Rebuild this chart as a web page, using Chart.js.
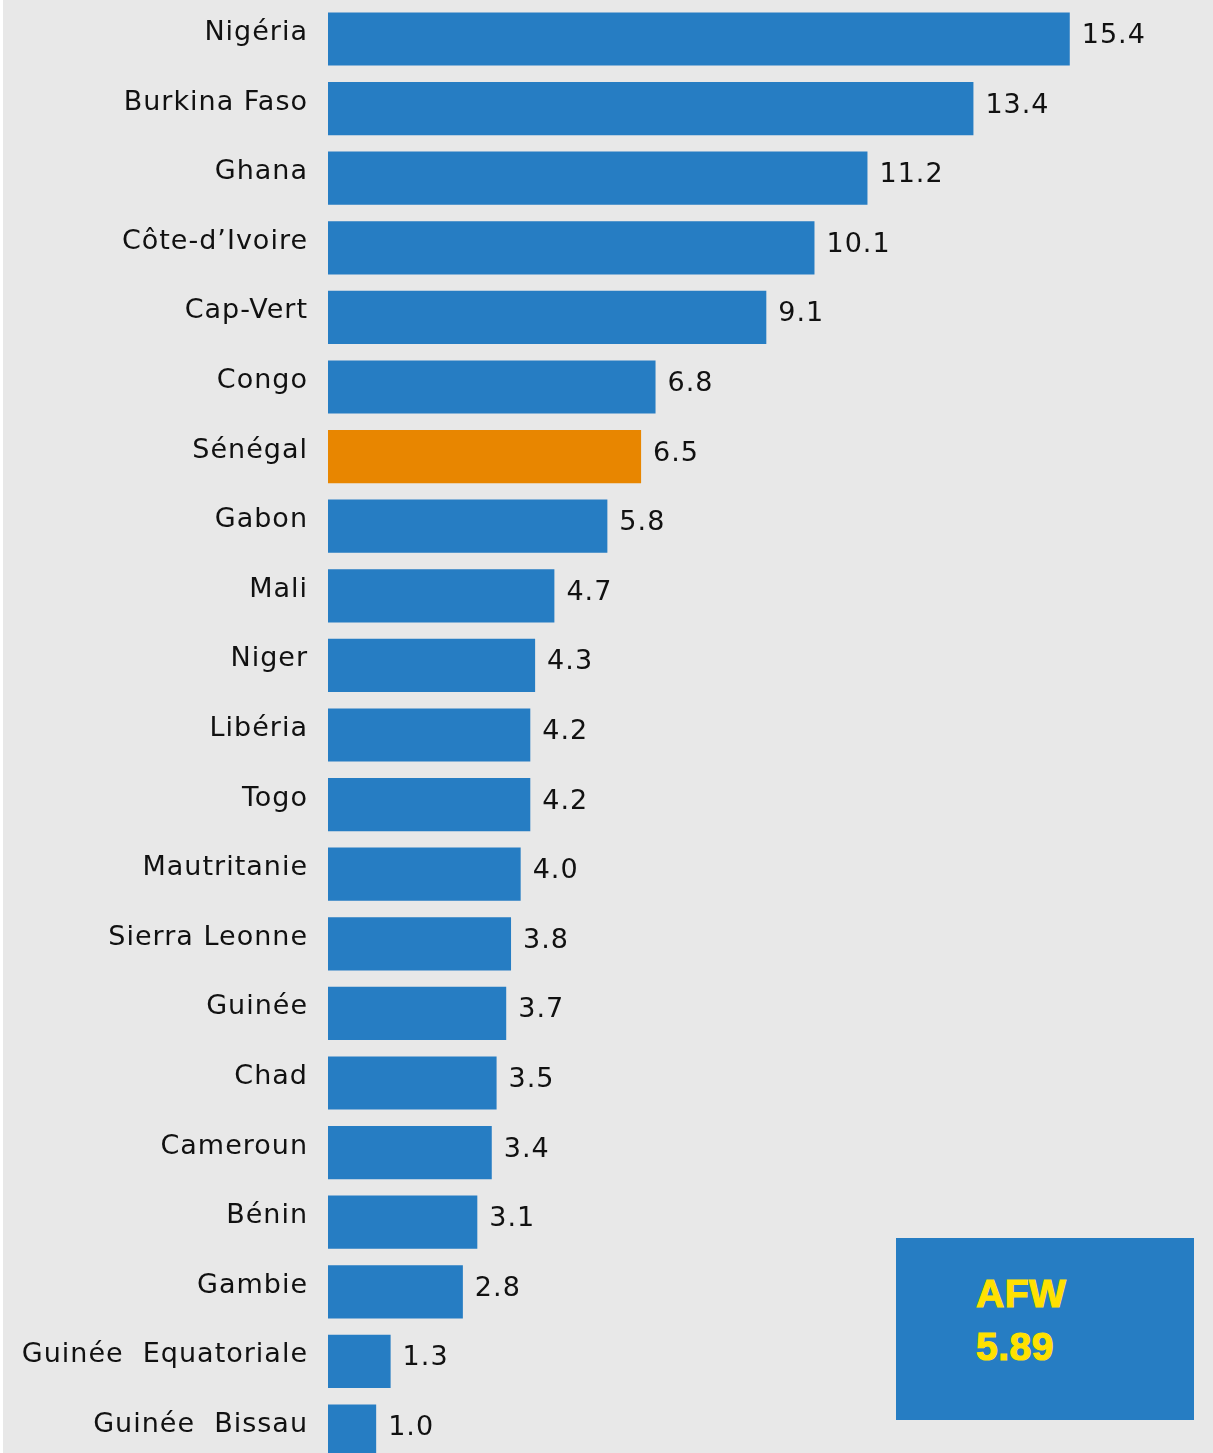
<!DOCTYPE html>
<html lang="fr">
<head>
<meta charset="utf-8">
<title>Taux par pays - AFW</title>
<script src="https://cdn.jsdelivr.net/npm/chart.js@4.4.1/dist/chart.umd.min.js"></script>
<style>
  html, body { margin: 0; padding: 0; background: #ffffff; overflow: hidden; }
  #page { position: relative; width: 1213px; height: 1453px; overflow: hidden; }
  #bg { position: absolute; left: 3px; right: 0; top: 0; bottom: 0; background: #e8e8e8; }
  /* canvas is taller than the page and pulled up, so the first bar sits near the top and the last one is cut */
  #bars { position: absolute; left: 0; top: -32px; }
  #afw-box {
    position: absolute; left: 896px; top: 1238px; width: 298px; height: 182px;
    background: #267dc3; color: #ffe100;
    font-family: "Liberation Sans", Arial, sans-serif; font-weight: bold; font-size: 39px;
    -webkit-text-stroke: 1.2px #ffe100; letter-spacing: 0.5px;
  }
  #afw-box span { position: absolute; left: 80px; line-height: 1; }
</style>
</head>
<body>
<div id="page">
  <div id="bg"></div>
  <canvas id="bars" width="1213" height="1534"></canvas>
  <div id="afw-box">
    <span id="afw-label" style="top:36px"></span>
    <span id="afw-value" style="top:89px"></span>
  </div>
</div>
<script>
// --- Data ---
const countries = [
  "Nigéria", "Burkina Faso", "Ghana", "Côte-d’Ivoire", "Cap-Vert", "Congo", "Sénégal",
  "Gabon", "Mali", "Niger", "Libéria", "Togo", "Mautritanie", "Sierra Leonne",
  "Guinée", "Chad", "Cameroun", "Bénin", "Gambie", "Guinée  Equatoriale", "Guinée  Bissau"
];
const values = [15.4, 13.4, 11.2, 10.1, 9.1, 6.8, 6.5, 5.8, 4.7, 4.3, 4.2, 4.2, 4.0, 3.8, 3.7, 3.5, 3.4, 3.1, 2.8, 1.3, 1.0];
const valueLabels = ["15.4", "13.4", "11.2", "10.1", "9.1", "6.8", "6.5", "5.8", "4.7", "4.3", "4.2", "4.2", "4.0", "3.8", "3.7", "3.5", "3.4", "3.1", "2.8", "1.3", "1.0"];
const highlightCountry = "Sénégal";
const regionLabel = "AFW";
const regionAverage = "5.89";

const BLUE = '#267dc3';
const ORANGE = '#e88600';

document.getElementById('afw-label').textContent = regionLabel;
document.getElementById('afw-value').textContent = regionAverage;

const barColors = countries.map(c => c === highlightCountry ? ORANGE : BLUE);

// letter spacing for every text Chart.js draws
const spacingPlugin = {
    id: 'spacing',
    beforeDraw(chart) { chart.ctx.letterSpacing = '1px'; }
};

// value printed just past the end of each bar
const valueLabelPlugin = {
    id: 'valueLabels',
    afterDatasetsDraw(chart) {
        const ctx = chart.ctx;
        const meta = chart.getDatasetMeta(0);
        ctx.save();
        ctx.font = '27px "DejaVu Sans", sans-serif';
        ctx.letterSpacing = '1px';
        ctx.fillStyle = '#111111';
        ctx.textAlign = 'left';
        ctx.textBaseline = 'middle';
        meta.data.forEach((bar, i) => {
            ctx.fillText(valueLabels[i], bar.x + 12, bar.y - 3);
        });
        ctx.restore();
    }
};

const ctx = document.getElementById('bars').getContext('2d');
new Chart(ctx, {
    type: 'bar',
    data: {
        labels: countries,
        datasets: [{
            data: values,
            backgroundColor: barColors,
            borderWidth: 0,
            barPercentage: 0.765,
            categoryPercentage: 1.0
        }]
    },
    options: {
        indexAxis: 'y',
        responsive: false,
        animation: false,
        devicePixelRatio: 1,
        layout: { padding: { top: 4, bottom: 5, left: 0, right: 18 } },
        plugins: { legend: { display: false }, tooltip: { enabled: false } },
        scales: {
            x: { display: false, min: 0, max: 18 },
            y: {
                grid: { display: false, drawTicks: false },
                border: { display: false },
                afterFit: (scale) => { scale.width = 328; },
                ticks: {
                    color: '#111111',
                    padding: 20,
                    labelOffset: -6,
                    autoSkip: false,
                    font: { family: '"DejaVu Sans", sans-serif', size: 27 }
                }
            }
        }
    },
    plugins: [spacingPlugin, valueLabelPlugin]
});
</script>
</body>
</html>
